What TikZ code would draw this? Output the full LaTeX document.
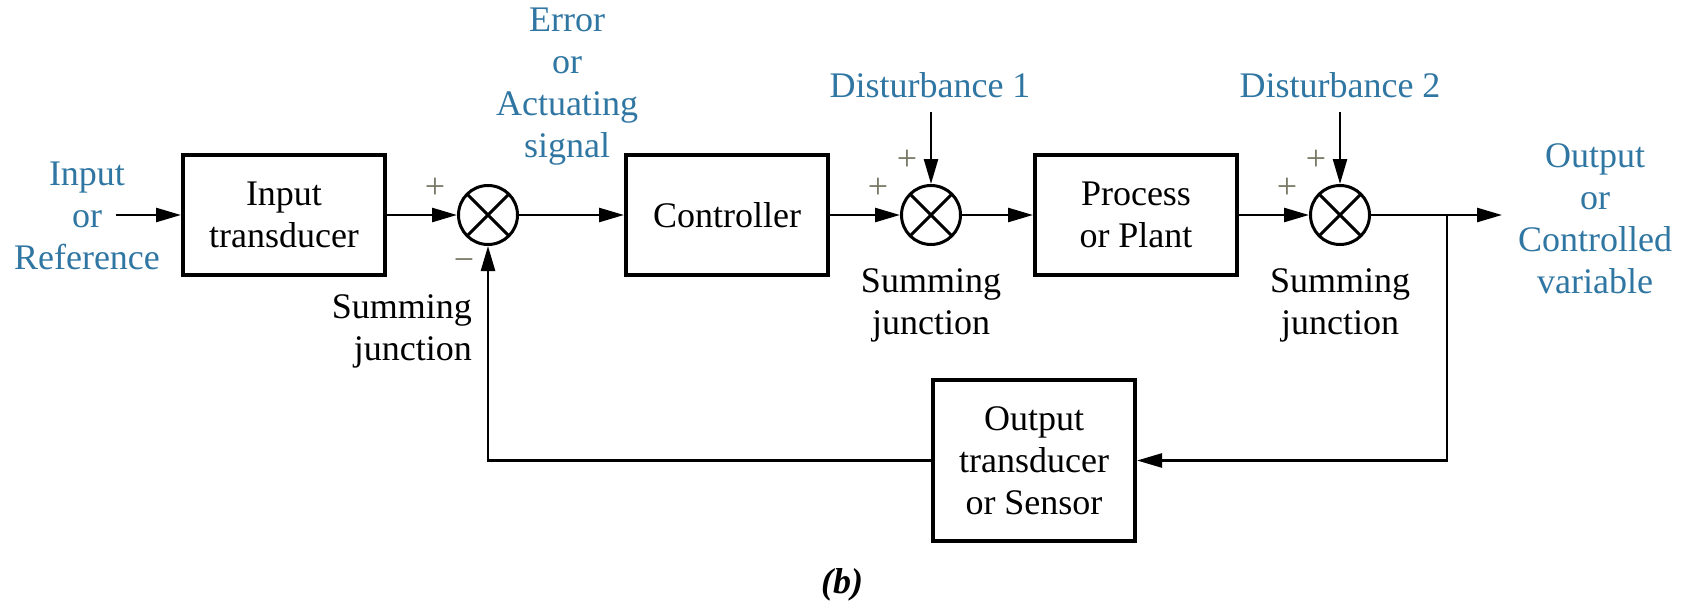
\documentclass[tikz,border=0pt]{standalone}
\usepackage{fontspec}
\setmainfont{Liberation Serif}
\usetikzlibrary{arrows.meta}
\definecolor{lblue}{RGB}{48,118,162}
\definecolor{sgngray}{RGB}{120,120,100}
\begin{document}
\begin{tikzpicture}[x=1pt,y=-1pt,
  every node/.style={font=\fontsize{36}{42}\selectfont, inner sep=0pt},
  blk/.style={draw, line width=4pt, minimum width=202pt, minimum height=120pt, align=center},
  sumj/.style={draw, circle, line width=3pt, minimum size=59pt,
    path picture={\draw[line width=3pt] (path picture bounding box.north west) -- (path picture bounding box.south east)
      (path picture bounding box.north east) -- (path picture bounding box.south west);}},
  lbl/.style={text=lblue, align=center},
  sgn/.style={text=sgngray},
  sig/.style={line width=2.5pt, -{Triangle[length=25pt,width=14pt]}}]
\useasboundingbox (0,0) rectangle (1684,602);
% blocks
\node[blk] (it) at (284,215) {Input\\transducer};
\node[blk] (ctl) at (727,215) {Controller};
\node[blk] (pp) at (1136,215) {Process\\or Plant};
\node[blk, minimum height=161pt] (os) at (1034,460.5) {Output\\transducer\\or Sensor};
\node[sumj] (s1) at (488,215) {};
\node[sumj] (s2) at (931,215) {};
\node[sumj] (s3) at (1340,215) {};
% labels
\node[lbl] (inl) at (87,216) {Input\\or\\Reference};
\node[lbl] (err) at (567,87) {Error\\or\\Actuating\\signal};
\node[lbl] (d1) at (930,85) {Disturbance 1};
\node[lbl] (d2) at (1340,85) {Disturbance 2};
\node[lbl] (outl) at (1595,219) {Output\\or\\Controlled\\variable};
\node[align=right, anchor=east] (sj1) at (472,331) {Summing\\junction};
\node[align=center] (sj2) at (931,305) {Summing\\junction};
\node[align=center] (sj3) at (1340,305) {Summing\\junction};
\node (cap) at (842,585) {\bfseries\itshape (b)};
% signs
\node[sgn] (p1) at (435,188) {+};
\node[sgn] (m1) at (464,265) {\char"2212};
\node[sgn] (p2) at (878,188) {+};
\node[sgn] (p2t) at (907,160) {+};
\node[sgn] (p3) at (1287,188) {+};
\node[sgn] (p3t) at (1316,160) {+};
% coordinates
\coordinate (instart) at (116,215);
\coordinate (outend) at (1502,215);
\coordinate (br) at (1447,215);
\coordinate (d1s) at (931,112);
\coordinate (d2s) at (1340,112);
% connectors
\draw[sig] (instart) -- (it);
\draw[sig] (it) -- (s1);
\draw[sig] (s1) -- (ctl);
\draw[sig] (ctl) -- (s2);
\draw[sig] (s2) -- (pp);
\draw[sig] (pp) -- (s3);
\draw[sig] (s3) -- (outend);
\draw[sig] (d1s) -- (s2);
\draw[sig] (d2s) -- (s3);
\draw[sig] (br) |- (os);
\draw[sig] (os) -| (s1);
\end{tikzpicture}
\end{document}
